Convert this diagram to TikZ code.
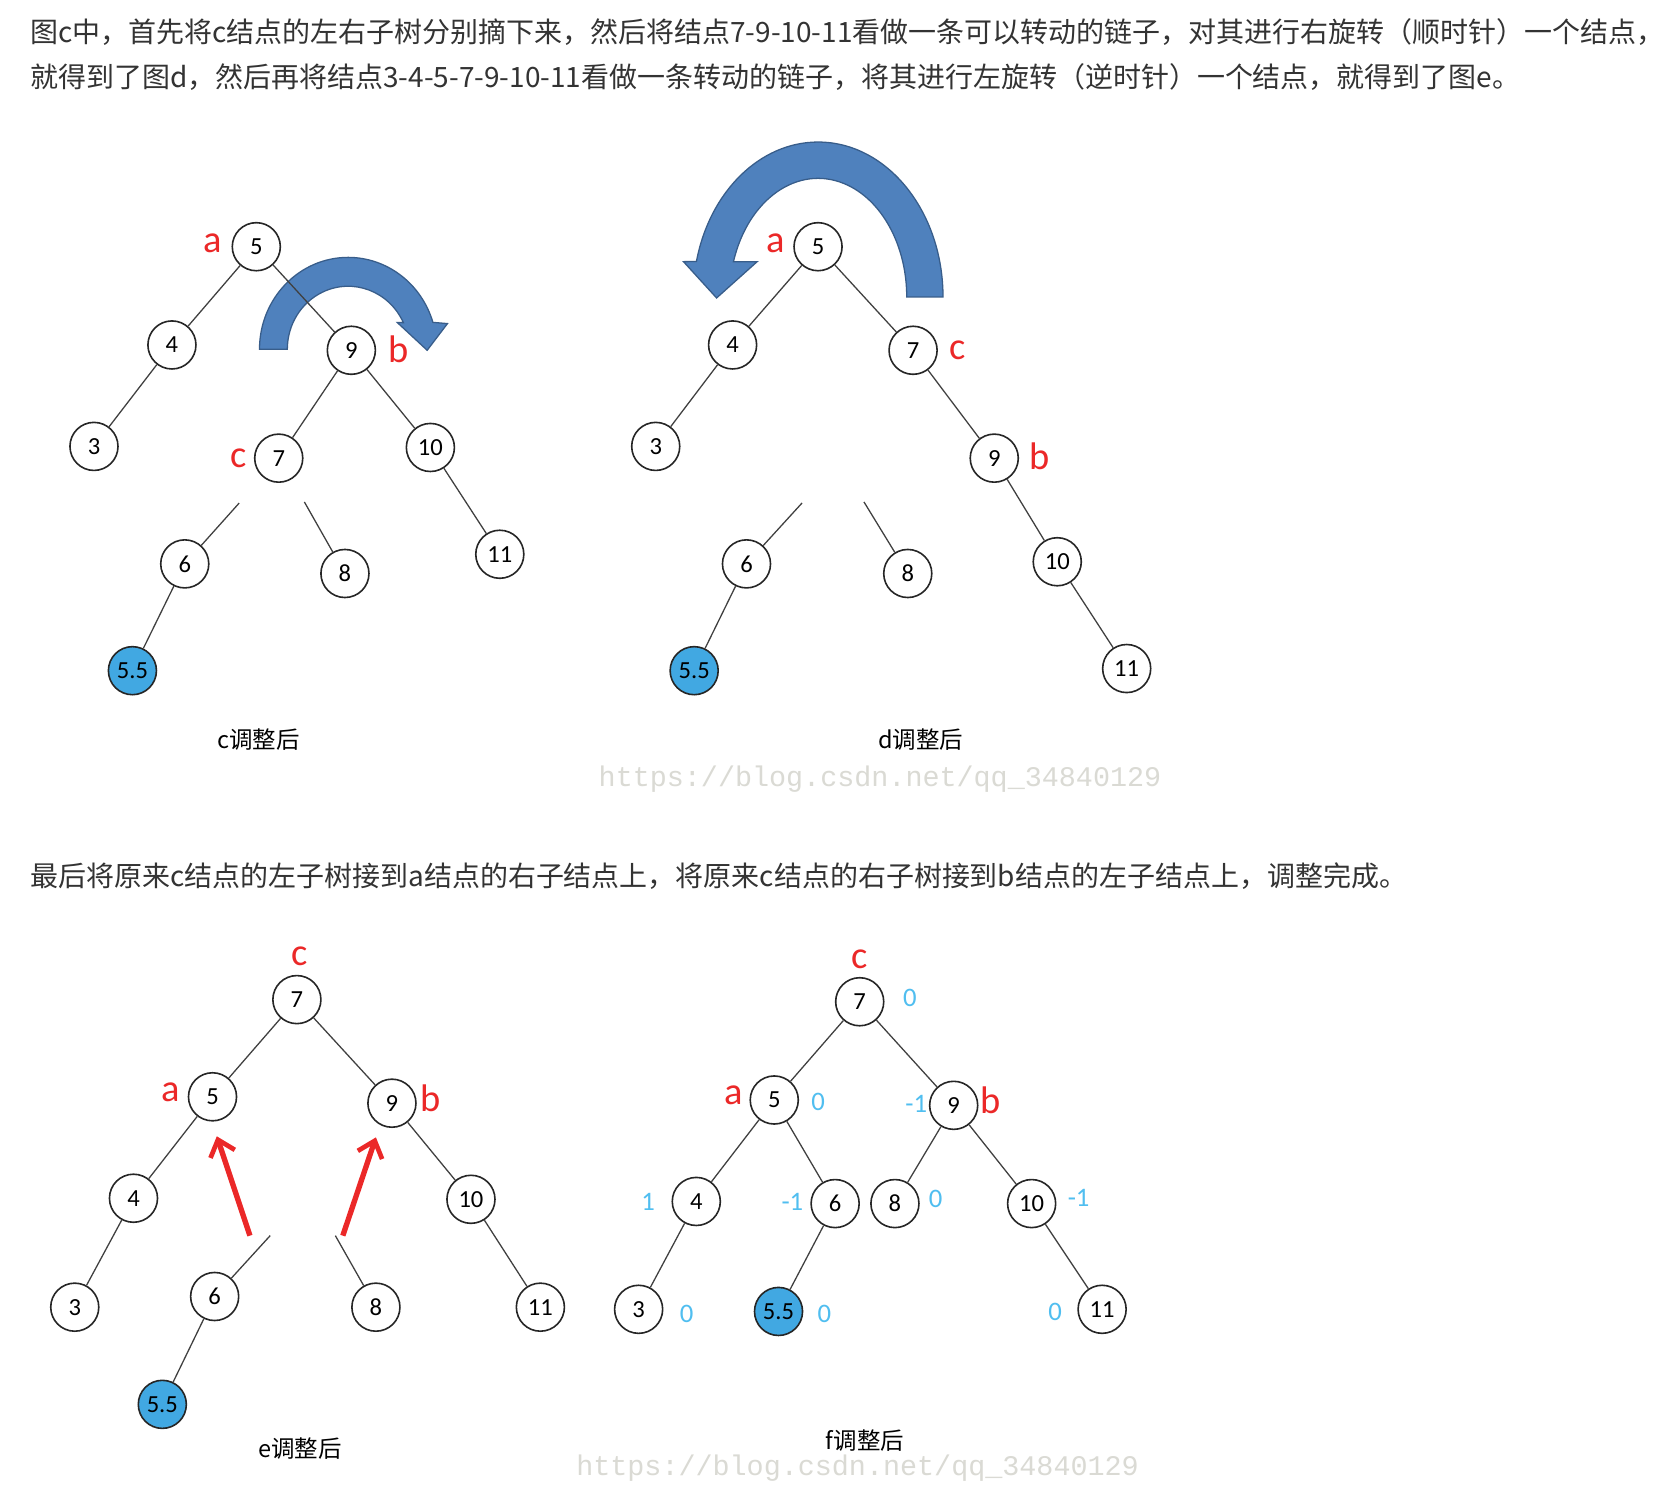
\documentclass[tikz,border=0pt]{standalone}
\usepackage{fontspec}
\usetikzlibrary{arrows.meta}
\newfontfamily\cjkfont{Noto Sans CJK SC}
\newfontfamily\calfont{Carlito}
\newfontfamily\wmfont{Liberation Mono}
\definecolor{txt}{RGB}{51,51,51}
\definecolor{nodeblue}{RGB}{65,168,226}
\definecolor{arrfill}{RGB}{79,129,189}
\definecolor{arrdraw}{RGB}{56,93,138}
\definecolor{lblred}{RGB}{235,40,40}
\definecolor{bfblue}{RGB}{80,190,240}
\definecolor{wm}{RGB}{218,218,212}
\begin{document}
\begin{tikzpicture}[x=0.5pt,y=-0.5pt,
  nd/.style={circle,draw=black!85,line width=0.75pt,minimum size=22.5pt,inner sep=0pt,fill=white,
     font=\calfont\fontsize{11.5}{13}\selectfont},
  hl/.style={nd,fill=nodeblue},
  edge/.style={draw=black!75,line width=0.6pt},
  lbl/.style={text=lblred,font=\calfont\fontsize{18}{21}\selectfont,inner sep=0pt},
  bf/.style={text=bfblue,font=\calfont\fontsize{12.5}{15}\selectfont,inner sep=0pt},
  capt/.style={text=black,font=\cjkfont\fontsize{11}{13}\selectfont,inner sep=0pt},
  para/.style={text=txt,anchor=west,inner sep=0pt,font=\cjkfont\fontsize{13.1}{16}\selectfont},
  wmark/.style={text=wm,inner sep=0pt,font=\wmfont\fontsize{13.3}{16}\selectfont},
  bigarrow/.style={fill=arrfill,draw=arrdraw,line width=0.6pt},
  redarrow/.style={draw=lblred,line width=2.5pt,-{Straight Barb[length=7pt,width=12pt,line width=2.2pt]}}]
\fill[white] (0,0) rectangle (1560,1392);
\useasboundingbox (0,0) rectangle (1560,1392);

% ---- paragraphs
\node[para] (t1) at (28,30) {图c中，首先将c结点的左右子树分别摘下来，然后将结点7-9-10-11看做一条可以转动的链子，对其进行右旋转（顺时针）一个结点，};
\node[para] (t2) at (28,72) {就得到了图d，然后再将结点3-4-5-7-9-10-11看做一条转动的链子，将其进行左旋转（逆时针）一个结点，就得到了图e。};
\node[para] (t3) at (28,820) {最后将原来c结点的左子树接到a结点的右子结点上，将原来c结点的右子树接到b结点的左子结点上，调整完成。};

% ---- tree c
\draw[bigarrow] (243,327) arc[start angle=180,end angle=343,x radius=83,y radius=86]
  -- (419,303) -- (400,328) -- (372,302) -- (377.7,302.1)
  arc[start angle=335,end angle=180,x radius=57,y radius=59] -- cycle;
\node[nd] (c5) at (240,231) {5};
\node[nd] (c4) at (161,323) {4};
\node[nd] (c9) at (329,328) {9};
\node[nd] (c3) at (88,418) {3};
\node[nd] (c7) at (261,429) {7};
\node[nd] (c10) at (403,419) {10};
\node[nd] (c6) at (173,528) {6};
\node[nd] (c8) at (323,537) {8};
\node[nd] (c11) at (468,519) {11};
\node[hl] (c55) at (124,628) {5.5};
\coordinate (c6t) at (224,471);
\coordinate (c8t) at (285,470);
\draw[edge] (c5) -- (c4) (c4) -- (c3) (c9) -- (c7) (c9) -- (c10) (c10) -- (c11) (c6) -- (c55)
  (c6t) -- (c6) (c8t) -- (c8);
\draw[edge] (c5) -- (c9);
\node[lbl] (ca) at (199,228) {a};
\node[lbl] (cb) at (373,327) {b};
\node[lbl] (cc) at (223,429) {c};
\node[capt] (capc) at (242,693) {c调整后};

% ---- tree d
\draw[bigarrow] (883,278) arc[start angle=0,end angle=-166.8,x radius=117,y radius=145]
  -- (640,245) -- (671,279) -- (709,245) -- (686.8,245)
  arc[start angle=-162.7,end angle=0,x radius=83,y radius=111] -- cycle;
\node[nd] (d5) at (766,231) {5};
\node[nd] (d4) at (686,323) {4};
\node[nd] (d7) at (855,328) {7};
\node[nd] (d3) at (614,418) {3};
\node[nd] (d9) at (931,429) {9};
\node[nd] (d10) at (990,526) {10};
\node[nd] (d11) at (1055,626) {11};
\node[nd] (d6) at (699,528) {6};
\node[nd] (d8) at (850,537) {8};
\node[hl] (d55) at (650,628) {5.5};
\coordinate (d6t) at (751,471);
\coordinate (d8t) at (809,470);
\draw[edge] (d5) -- (d4) (d5) -- (d7) (d4) -- (d3) (d7) -- (d9) (d9) -- (d10) (d10) -- (d11)
  (d6) -- (d55) (d6t) -- (d6) (d8t) -- (d8);
\node[lbl] (da) at (726,228) {a};
\node[lbl] (dc) at (897,328) {c};
\node[lbl] (db) at (973,427) {b};
\node[capt] (capd) at (862,693) {d调整后};
\node[wmark] (wm1) at (824,730) {https://blog.csdn.net/qq\_34840129};

% ---- tree e
\node[nd] (e7) at (278,936) {7};
\node[nd] (e5) at (199,1027) {5};
\node[nd] (e9) at (367,1033) {9};
\node[nd] (e4) at (125,1122) {4};
\node[nd] (e10) at (441,1123) {10};
\node[nd] (e3) at (70,1224) {3};
\node[nd] (e6) at (201,1214) {6};
\node[nd] (e8) at (352,1224) {8};
\node[nd] (e11) at (506,1224) {11};
\node[hl] (e55) at (152,1315) {5.5};
\coordinate (e6t) at (253,1157);
\coordinate (e8t) at (314,1157);
\draw[edge] (e7) -- (e5) (e7) -- (e9) (e5) -- (e4) (e4) -- (e3) (e9) -- (e10) (e10) -- (e11)
  (e6) -- (e55) (e6t) -- (e6) (e8t) -- (e8);
\coordinate (ra1) at (234,1157);
\coordinate (ra2) at (203,1064);
\coordinate (rb1) at (321,1157);
\coordinate (rb2) at (352,1065);
\draw[redarrow] (ra1) -- (ra2);
\draw[redarrow] (rb1) -- (rb2);
\node[lbl] (ec) at (281,895) {c};
\node[lbl] (ea) at (160,1023) {a};
\node[lbl] (eb) at (403,1028) {b};
\node[capt] (cape) at (281,1356) {e调整后};

% ---- tree f
\node[nd] (f7) at (805,938) {7};
\node[nd] (f5) at (725,1030) {5};
\node[nd] (f9) at (893,1035) {9};
\node[nd] (f4) at (652,1125) {4};
\node[nd] (f6) at (782,1127) {6};
\node[nd] (f8) at (838,1127) {8};
\node[nd] (f10) at (966,1127) {10};
\node[nd] (f3) at (598,1226) {3};
\node[hl] (f55) at (729,1228) {5.5};
\node[nd] (f11) at (1032,1226) {11};
\draw[edge] (f7) -- (f5) (f7) -- (f9) (f5) -- (f4) (f5) -- (f6) (f9) -- (f8) (f9) -- (f10)
  (f4) -- (f3) (f6) -- (f55) (f10) -- (f11);
\node[lbl] (fc) at (805,898) {c};
\node[lbl] (fa) at (687,1026) {a};
\node[lbl] (fb) at (928,1030) {b};
\node[bf] (b7) at (852,934) {0};
\node[bf] (b5) at (766,1032) {0};
\node[bf] (b9) at (858,1034) {-1};
\node[bf] (b4) at (607,1125) {1};
\node[bf] (b6) at (742,1125) {-1};
\node[bf] (b8) at (876,1123) {0};
\node[bf] (b10) at (1010,1122) {-1};
\node[bf] (b3) at (643,1230) {0};
\node[bf] (b55) at (772,1230) {0};
\node[bf] (b11) at (988,1228) {0};
\node[capt] (capf) at (810,1349) {f调整后};
\node[wmark] (wm2) at (803,1375) {https://blog.csdn.net/qq\_34840129};
\end{tikzpicture}
\end{document}
